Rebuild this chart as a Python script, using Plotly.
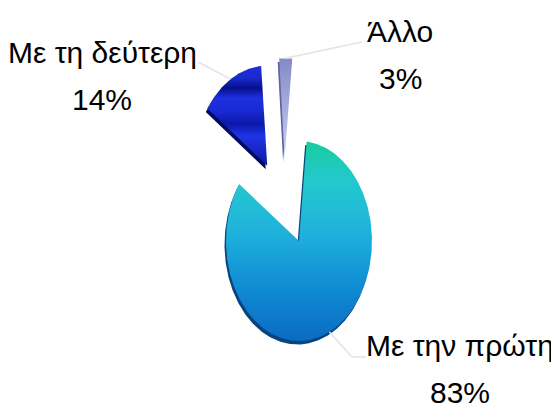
import numpy as np
import plotly.graph_objects as go

# ---- data ----
labels = ["Με την πρώτη", "Με τη δεύτερη", "Άλλο"]
values = [83, 14, 3]

# ---- style ----
W, H = 551, 403
CX, CY, RX, RY = 299, 241, 73, 100     # ellipse centre / radii (px)
ROT = 6                                 # start angle, degrees clockwise from 12 o'clock
PULL = [0.0, 0.87, 0.85]                # explode distance (fraction of radius)
PULL_TWEAK = [0, 0, -14]                # explode direction tweak (deg)
# colour stops listed top -> bottom
FILL_SCALES = [
    [[0, "#18cc9c"], [0.2, "#24c8cf"], [0.45, "#1fb2dc"], [0.75, "#0f89d2"], [1, "#0a6cc2"]],
    [[0, "#1c2ed8"], [0.12, "#1a2ad0"], [0.22, "#080f8c"], [0.32, "#1e30e0"],
     [0.45, "#1a2ad4"], [0.58, "#0a18a8"], [0.7, "#1f34e6"], [0.85, "#1626c4"], [1, "#0c1a9a"]],
    [[0, "#858ac8"], [0.5, "#a6addf"], [1, "#cdd3f2"]],
]
SHADOW_COL = ["#0a447f", "#030a60", "#60659c"]
SHADOW_OFF = (-1.5, 3.5)
LABEL_POS = [(460, 345), (102, 52), (400, 31)]   # first-line centres
LINE_GAP = 47
LEADER_PTS = [[(352, 357), (366, 357)], [(198, 62)], [(362, 42)]]
FONT = "Liberation Sans, Arial, sans-serif"
FONT_SIZE = 30

fig = go.Figure()
total = sum(values)
a_start = ROT
geoms = []
for i, v in enumerate(values):
    a0 = a_start
    a1 = a_start + 360.0 * v / total
    a_start = a1
    mid = (a0 + a1) / 2
    pd = np.radians(mid + PULL_TWEAK[i])
    vx = CX + PULL[i] * RX * np.sin(pd)
    vy = CY - PULL[i] * RY * np.cos(pd)
    t = np.radians(np.linspace(a0, a1, max(12, int((a1 - a0) * 2))))
    xs = np.concatenate([[vx], vx + RX * np.sin(t), [vx]])
    ys = np.concatenate([[vy], vy - RY * np.cos(t), [vy]])
    m = np.radians(mid)
    anchor = (vx + RX * np.sin(m), vy - RY * np.cos(m))
    geoms.append((xs, ys, anchor))

# 3D-ish rim (shadow copies)
for i, (xs, ys, _) in enumerate(geoms):
    fig.add_trace(go.Scatter(
        x=xs + SHADOW_OFF[0], y=ys + SHADOW_OFF[1], mode="lines", fill="toself",
        fillcolor=SHADOW_COL[i], line=dict(width=0, color=SHADOW_COL[i]),
        hoverinfo="skip", showlegend=False))

# slices (gradient scale is mapped in screen order bottom->top, so flip)
for i, (xs, ys, _) in enumerate(geoms):
    scale = [[1 - p, c] for p, c in reversed(FILL_SCALES[i])]
    fig.add_trace(go.Scatter(
        x=xs, y=ys, mode="lines", fill="toself",
        fillgradient=dict(type="vertical", colorscale=scale),
        line=dict(width=0, color=FILL_SCALES[i][0][1]),
        name=labels[i], hoverinfo="skip", showlegend=False))

# leader lines
for i, (_, _, anchor) in enumerate(geoms):
    pts = [anchor] + LEADER_PTS[i]
    fig.add_trace(go.Scatter(
        x=[p[0] for p in pts], y=[p[1] for p in pts], mode="lines",
        line=dict(color="#e3e3e3", width=1.5), hoverinfo="skip", showlegend=False))

for i, lab in enumerate(labels):
    for j, txt in enumerate([lab, f"{values[i]}%"]):
        fig.add_annotation(
            x=LABEL_POS[i][0], y=LABEL_POS[i][1] + j * LINE_GAP, xref="x", yref="y",
            text=txt, showarrow=False,
            font=dict(family=FONT, size=FONT_SIZE, color="#000000"),
            xanchor="center", yanchor="middle", align="center")

fig.update_layout(
    width=W, height=H, autosize=False,
    margin=dict(l=0, r=0, t=0, b=0),
    paper_bgcolor="white", plot_bgcolor="white",
    xaxis=dict(range=[0, W], visible=False, fixedrange=True),
    yaxis=dict(range=[H, 0], visible=False, fixedrange=True),
    showlegend=False,
)

fig.write_html("out.html", config={"displayModeBar": False},
               post_script="document.body.style.margin='0px';document.body.style.overflow='hidden';")
